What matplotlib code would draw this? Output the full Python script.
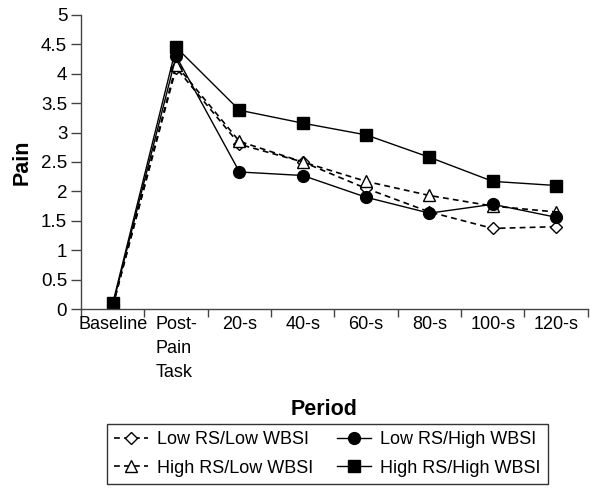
import matplotlib
matplotlib.use("Agg")
import matplotlib.pyplot as plt
import numpy as np

plt.rcParams['font.family'] = ['Liberation Sans', 'DejaVu Sans']

# categories along the x axis
periods = ["Baseline", "Post-\nPain\nTask", "20-s", "40-s", "60-s", "80-s", "100-s", "120-s"]

# mean pain ratings per group
lowRS_lowWBSI = [0.05, 4.10, 2.80, 2.50, 2.05, 1.65, 1.37, 1.40]
highRS_lowWBSI = [0.05, 4.15, 2.85, 2.50, 2.17, 1.93, 1.75, 1.65]
lowRS_highWBSI = [0.07, 4.30, 2.33, 2.27, 1.90, 1.63, 1.78, 1.56]
highRS_highWBSI = [0.10, 4.45, 3.38, 3.16, 2.96, 2.58, 2.17, 2.10]

fig = plt.figure(figsize=(6.01, 4.98), dpi=100)
ax = fig.add_axes([0.135, 0.3795, 0.843, 0.5905])

x = np.arange(len(periods)) + 0.5
dash = (0, (3.5, 2.5))

l1, = ax.plot(x, lowRS_lowWBSI, color='black', lw=1.2, ls=dash, marker='D',
              markersize=6.5, markerfacecolor='white', markeredgecolor='black',
              markeredgewidth=1.0, label='Low RS/Low WBSI')
l2, = ax.plot(x, highRS_lowWBSI, color='black', lw=1.2, ls=dash, marker='^',
              markersize=9, markerfacecolor='white', markeredgecolor='black',
              markeredgewidth=1.0, label='High RS/Low WBSI')
l3, = ax.plot(x, lowRS_highWBSI, color='black', lw=1.0, marker='o',
              markersize=8.5, markerfacecolor='black', markeredgecolor='black',
              label='Low RS/High WBSI')
l4, = ax.plot(x, highRS_highWBSI, color='black', lw=1.0, marker='s',
              markersize=8.5, markerfacecolor='black', markeredgecolor='black',
              label='High RS/High WBSI')

ax.set_xlim(0, len(periods))
ax.set_ylim(0, 5)
ax.set_yticks(np.arange(0, 5.01, 0.5))
ax.set_yticklabels(['0', '0.5', '1', '1.5', '2', '2.5', '3', '3.5', '4', '4.5', '5'])
ax.set_xticks(np.arange(0, len(periods) + 1))
ax.set_xticklabels([])
ax.set_xticks(x, minor=True)
ax.set_xticklabels(periods, minor=True, fontsize=13, va='top', ha='center',
                   multialignment='left', linespacing=1.55)
ax.tick_params(axis='x', which='minor', length=0, pad=5)
ax.tick_params(axis='x', which='major', length=6, direction='out', width=1,
               color='#444444')
ax.tick_params(axis='y', which='major', length=7, direction='out', width=1,
               labelsize=13.5, pad=3, color='#444444')

for side in ['top', 'right']:
    ax.spines[side].set_visible(False)
for side in ['left', 'bottom']:
    ax.spines[side].set_linewidth(1.0)
    ax.spines[side].set_color('#444444')

ax.set_ylabel('Pain', fontsize=15.5, fontweight='bold', labelpad=6)
ax.set_xlabel('Period', fontsize=15.5, fontweight='bold')
ax.xaxis.set_label_coords(0.48, -0.305)

leg = fig.legend(handles=[l1, l2, l3, l4], loc='center', ncol=2,
                 bbox_to_anchor=(0.545, 0.0885), fontsize=13, frameon=True,
                 fancybox=False, edgecolor='black', handlelength=1.9,
                 columnspacing=1.3, handletextpad=0.5, borderpad=0.4,
                 labelspacing=0.65)
leg.get_frame().set_linewidth(1.0)

fig.savefig('out.png', dpi=100)
